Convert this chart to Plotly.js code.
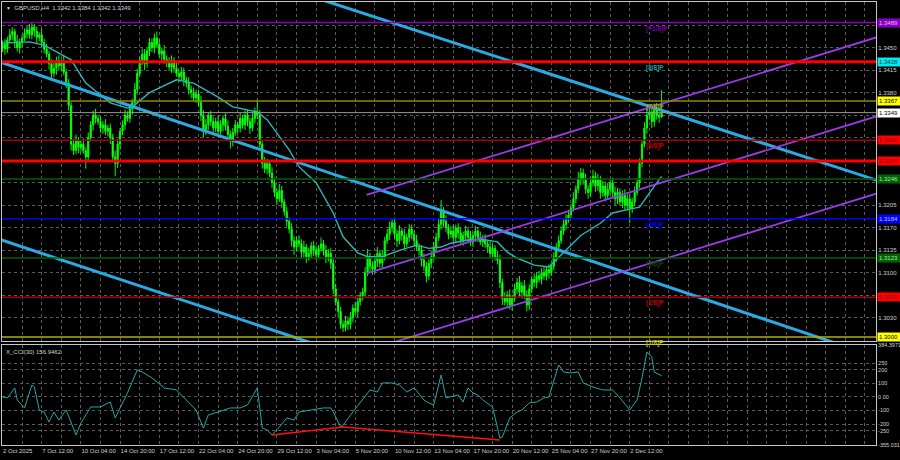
<!DOCTYPE html>
<html><head><meta charset="utf-8">
<script src="https://cdn.plot.ly/plotly-3.0.1.min.js"></script>
<style>html,body{margin:0;padding:0;background:#000;}#chart{width:900px;height:460px;}</style>
</head><body><div id="chart"></div>
<script>
// ---- DATA (prices in pips: 3455 = 1.3455) ----
const xLabels = ["2 Oct 2025","7 Oct 12:00","10 Oct 04:00","14 Oct 20:00","17 Oct 12:00","22 Oct 04:00","24 Oct 20:00","29 Oct 12:00","3 Nov 04:00","5 Nov 20:00","10 Nov 12:00","13 Nov 04:00","17 Nov 20:00","20 Nov 12:00","25 Nov 04:00","27 Nov 20:00","2 Dec 12:00"];
const firstOpen = 3450;
const closePips = [3455,3448,3462,3470,3475,3460,3450,3458,3465,3472,
3478,3470,3482,3476,3466,3470,3458,3448,3440,3425,
3410,3418,3430,3422,3428,3412,3395,3360,3300,3290,
3305,3295,3300,3290,3280,3310,3330,3345,3340,3335,
3325,3330,3320,3325,3310,3280,3270,3300,3320,3330,
3345,3340,3355,3365,3385,3410,3430,3440,3425,3445,
3458,3450,3465,3455,3440,3445,3432,3428,3420,3430,
3418,3410,3405,3412,3400,3395,3385,3380,3372,3378,
3365,3345,3320,3330,3345,3335,3325,3335,3320,3330,
3340,3328,3315,3305,3318,3330,3325,3340,3330,3345,
3335,3325,3340,3350,3345,3300,3270,3262,3270,3255,
3240,3225,3215,3228,3210,3195,3180,3168,3150,3140,
3150,3145,3132,3140,3125,3130,3142,3135,3128,3138,
3145,3135,3125,3130,3115,3075,3055,3040,3020,3015,
3025,3020,3030,3045,3040,3055,3065,3070,3100,3125,
3110,3105,3118,3130,3115,3125,3150,3160,3170,3178,
3160,3150,3165,3158,3145,3155,3168,3160,3150,3140,
3135,3120,3110,3095,3115,3125,3140,3155,3175,3195,
3180,3170,3160,3165,3155,3170,3162,3150,3158,3165,
3155,3148,3158,3165,3155,3148,3152,3145,3140,3130,
3138,3125,3120,3085,3060,3055,3065,3050,3060,3075,
3085,3070,3080,3065,3050,3075,3090,3085,3095,3090,
3100,3095,3105,3100,3110,3125,3140,3150,3165,3175,
3185,3190,3200,3215,3230,3245,3255,3245,3230,3225,
3240,3250,3235,3245,3225,3235,3220,3230,3240,3225,
3215,3225,3210,3220,3205,3215,3200,3210,3225,3240,
3270,3300,3325,3345,3350,3335,3355,3345,3342,3349];
const upperWick = [6,8,5,9,7,4,10,6,5,8,6,9,8,5,7,4,10,6,8,5,
7,10,6,8,4,9,5,6,5,8,10,6,7,9,5,8,6,7,10,5,
8,6,9,5,7,6,10,8,5,7,9,6,8,5,10,7,6,9,8,5,
7,6,7,10,8,5,9,6,7,8,5,10,6,8,7,5,9,6,8,7,
6,10,8,9,5,7,8,6,10,7,5,8,9,6,7,8,5,9,6,7,
8,6,9,7,19,8,6,10,7,5,9,8,6,10,7,5,8,6,9,7,
6,8,7,10,5,9,6,8,7,5,10,6,8,7,9,6,8,5,7,6,
8,7,9,6,10,8,5,7,9,12,6,8,7,10,5,9,6,8,10,6,
8,7,9,5,10,6,8,7,5,9,6,8,10,7,6,9,8,7,10,18,
7,9,6,8,10,5,7,9,6,8,7,10,5,8,6,9,7,8,6,10,
7,5,9,8,6,10,7,9,5,8,7,10,6,9,8,7,5,9,6,8,
7,9,6,8,5,7,6,8,7,9,6,8,7,10,6,12,8,7,9,6,
8,10,7,9,6,8,7,10,6,8,9,7,6,8,10,7,8,6,9,7,
8,6,9,10,7,12,8,9,6,35];
const lowerWick = [7,9,6,5,8,10,6,9,7,5,8,6,7,9,10,6,8,7,5,9,
8,6,10,7,9,5,8,8,10,7,6,9,8,5,18,7,6,9,8,5,
7,9,6,8,10,8,20,7,9,6,8,5,7,9,6,8,5,7,10,6,
8,7,9,6,5,10,7,8,6,9,7,5,8,6,10,7,8,9,6,8,
7,9,10,6,8,7,9,6,8,5,10,7,6,12,8,5,9,7,6,8,
7,9,5,8,6,10,8,7,9,6,8,7,10,5,9,6,8,7,9,12,
7,5,9,8,10,6,7,9,8,6,5,8,10,7,9,8,6,9,7,7,
6,9,8,7,5,9,6,8,7,5,10,8,6,9,7,8,6,5,9,7,
8,10,6,8,9,5,7,8,9,6,8,10,7,10,6,8,5,7,6,8,
9,7,8,6,10,7,9,5,8,7,9,6,8,10,7,5,8,6,9,7,
8,6,7,9,10,6,8,7,9,5,8,7,10,6,10,8,6,7,9,5,
8,6,7,9,5,6,8,7,5,6,8,7,6,5,7,6,9,8,7,10,
7,6,9,8,10,7,9,6,8,7,10,8,6,9,7,8,23,7,6,5,
8,6,5,9,7,10,8,7,9,0];

// moving average : bar index / value
const maIdx = [0,11,17,22,28,34,44,51,53,60,71,78,88,94,104,108,115,117,121,128,135,139,145,149,155,162,169,174,179,183,190,196,202,206,210,217,223,230,236,244,249,256,260,264,269];
const maPips = [3457,3459,3454,3443,3431,3395,3364,3356,3358,3380,3400,3395,3373,3358,3350,3338,3302,3291,3265,3240,3193,3156,3131,3125,3125,3135,3143,3138,3140,3146,3151,3152,3148,3132,3123,3112,3109,3135,3158,3177,3193,3199,3202,3224,3250];

// CCI(30)
const cciIdx = [0,2,5,6,9,12,13,15,17,19,21,23,26,28,30,32,36,40,44,46,51,55,57,61,66,71,75,79,82,84,88,93,97,100,104,106,108,110,113,116,119,121,126,131,134,135,138,139,143,147,150,153,155,159,162,165,168,172,174,176,179,181,183,186,188,190,192,194,196,199,200,203,204,207,210,212,215,218,221,223,227,229,232,235,237,241,245,249,252,256,259,261,263,265,266,269];
const cciVal = [0,-7,67,-22,-81,89,74,-96,-111,-185,-111,-170,-96,-193,-281,-193,-74,-74,-37,-156,30,200,185,141,67,52,-22,-96,-230,-133,-111,-81,-81,-59,67,-230,-244,-281,-222,-156,-170,-111,-96,-81,-81,-111,-222,-207,-111,-22,52,37,104,104,89,37,67,-22,-44,-59,163,-7,0,15,-37,67,30,15,-22,-59,-74,-304,-296,-156,-111,-96,-44,-37,-7,0,237,185,178,185,104,74,52,52,-7,-96,-22,141,333,296,185,157];
const cciDivIdx = [110,139,203];
const cciDivVal = [-281,-222,-318];

// trend lines (bar index, pips)
const cyanAIdx = [-2,360], cyanAPips = [3429,2965];
const cyanBIdx = [125,360], cyanBPips = [3531,3240];
const cyanCIdx = [-2,130], cyanCPips = [3153,2986];
const violet1Idx = [148.6,360], violet1Pips = [3221,3470];
const violet2Idx = [148.6,360], violet2Pips = [3099,3347];
const violet3Idx = [148.6,360], violet3Pips = [2979,3227];

// horizontal levels
const levelPips = [3489,3428,3367,3349,3306,3274,3246,3184,3123,3062,3000];
const levelText = ["1.3489","1.3428","1.3367","1.3349","1.3306","1.3274","1.3246","1.3184","1.3123","1.3062","1.3000"];
const mmLabel = ["[+1/8]P","[8/8]P","[7/8]P","[6/8]P","[4/8]P","[3/8]P","[2/8]P","[1/8]P"];
const mmLabelPips = [3489,3428,3367,3306,3184,3123,3062,3000];
const mmLabelBar = 262;

const priceTicks = [1.2995,1.3030,1.3065,1.3100,1.3135,1.3170,1.3205,1.3240,1.3275,1.3310,1.3345,1.3380,1.3415,1.3450,1.3485,1.3520];
const priceTickText = ["","1.3030","","1.3100","1.3135","1.3170","1.3205","","","","","1.3380","1.3415","1.3450","","1.3520"];
const cciTicks = [-355.031,-250,-200,-100,0,100,200,250,384.3971];
const cciTickText = ["-355.031","-250","-200","-100","0.00","100","200","250","384.3971"];
const headerText = "GBPUSD,H4  1.3342 1.3384 1.3342 1.3349";
const cciHeader = "X_CCI(30) 156.9462";

// ---- STYLES ----
const levelColors = ['#8a00b8','#ff0000','#8c8c00','#9a9a9a','#a80000','#ff0000','#006000','#0000ff','#006000','#a80000','#b0b000'];
const levelWidths = [1.5,3,1.5,1,1.5,3,1.5,1.5,1.5,1.5,1.5];
const boxBg = ['#8a00c0','#00e8f0','#ffff00','#ffffff','#ff0000','#ff0000','#006400','#0000ff','#006400','#ff0000','#ffff00'];
const boxFg = ['#e0b8ff','#003838','#000000','#000000','#7a0000','#7a0000','#b0e0b0','#c0c0ff','#b0e0b0','#7a0000','#000000'];
const mmColors = ['#7a00a8','#10a0a8','#a0a000','#c00000','#0000ff','#004a00','#c00000','#c0c000'];

const P = v => 1 + v/10000;
const FONT = '"Liberation Sans",Arial,sans-serif';
const TXT = '#d0d0d0';
const GRID = '#5a5a5a';

const bars = closePips.map((_, i) => i);
const openPips = closePips.map((c, i) => i === 0 ? firstOpen : closePips[i-1]);
const highPips = closePips.map((c, i) => Math.max(c, openPips[i]) + upperWick[i]);
const lowPips = closePips.map((c, i) => Math.min(c, openPips[i]) - lowerWick[i]);

const traces = [];
traces.push({
  type:'candlestick', x:bars, open:openPips.map(P), high:highPips.map(P), low:lowPips.map(P), close:closePips.map(P),
  xaxis:'x', yaxis:'y', whiskerwidth:0, hoverinfo:'skip',
  increasing:{line:{color:'#00ff00', width:1}, fillcolor:'#00ff00'},
  decreasing:{line:{color:'#00ff00', width:1}, fillcolor:'#7cf57c'}
});
traces.push({type:'scatter', mode:'lines', x:maIdx, y:maPips.map(P), xaxis:'x', yaxis:'y', line:{color:'#2cb8b8', width:1.4}, hoverinfo:'skip'});
[[cyanAIdx,cyanAPips],[cyanBIdx,cyanBPips],[cyanCIdx,cyanCPips]].forEach(([a,b]) => {
  traces.push({type:'scatter', mode:'lines', x:a, y:b.map(P), xaxis:'x', yaxis:'y', line:{color:'#2aaae2', width:3}, hoverinfo:'skip'});
});
[[violet1Idx,violet1Pips],[violet2Idx,violet2Pips],[violet3Idx,violet3Pips]].forEach(([a,b]) => {
  traces.push({type:'scatter', mode:'lines', x:a, y:b.map(P), xaxis:'x', yaxis:'y', line:{color:'#9a3ce8', width:1.8}, hoverinfo:'skip'});
});
traces.push({type:'scatter', mode:'lines', x:cciIdx, y:cciVal, xaxis:'x2', yaxis:'y2', line:{color:'#22a8a8', width:1}, hoverinfo:'skip'});
traces.push({type:'scatter', mode:'lines', x:cciDivIdx, y:cciDivVal, xaxis:'x2', yaxis:'y2', line:{color:'#ff1010', width:1.5}, hoverinfo:'skip'});

const gridIdx = [];
for (let k = 0; k <= 352; k += 8) gridIdx.push(k);
const gridText = gridIdx.map(k => (k % 16 === 0 && k/16 < xLabels.length) ? xLabels[k/16] : '');

const shapes = levelPips.map((v, i) => ({
  type:'line', xref:'paper', x0:0, x1:1, yref:'y', y0:P(v), y1:P(v),
  line:{color:levelColors[i], width:levelWidths[i]}
}));

const annotations = [];
levelPips.forEach((v, i) => annotations.push({
  xref:'paper', x:1, xanchor:'left', xshift:1, yref:'y', y:P(v), yanchor:'middle',
  text:levelText[i], showarrow:false, bgcolor:boxBg[i], borderpad:1, width:21, align:'left',
  font:{family:FONT, size:6, color:boxFg[i]}
}));
mmLabel.forEach((t, i) => annotations.push({
  xref:'x', x:mmLabelBar, xanchor:'left', yref:'y', y:P(mmLabelPips[i]), yanchor:'top',
  text:'<b>'+t+'</b>', showarrow:false, font:{family:FONT, size:6.5, color:mmColors[i]}
}));
annotations.push({xref:'paper', x:0, xanchor:'left', xshift:2, yref:'paper', y:1, yanchor:'top', yshift:-1,
  text:'<span style="font-size:5px">▼</span>  '+headerText, showarrow:false, font:{family:FONT, size:6, color:TXT}});
annotations.push({xref:'paper', x:0, xanchor:'left', xshift:2, yref:'paper', y:0.2257, yanchor:'top', yshift:-2,
  text:cciHeader, showarrow:false, font:{family:FONT, size:6, color:TXT}});

const axisCommon = {showline:true, mirror:true, linecolor:'#c8c8c8', linewidth:1, zeroline:false,
  gridcolor:GRID, griddash:'3px,3px', gridwidth:1, ticks:'', fixedrange:true,
  tickfont:{family:FONT, size:6, color:TXT}};

const layout = {
  width:900, height:460, paper_bgcolor:'#000', plot_bgcolor:'#000', showlegend:false,
  margin:{l:2, r:24, t:2, b:15},
  xaxis:Object.assign({}, axisCommon, {domain:[0,1], anchor:'y', range:[-0.2,356.5], tickmode:'array', tickvals:gridIdx, showticklabels:false, showgrid:true, rangeslider:{visible:false}}),
  xaxis2:Object.assign({}, axisCommon, {domain:[0,1], anchor:'y2', matches:'x', tickmode:'array', tickvals:gridIdx, ticktext:gridText, ticklabelposition:'outside right', tickangle:0, automargin:false, showgrid:true}),
  yaxis:Object.assign({}, axisCommon, {domain:[0.2348,1], anchor:'x', side:'right', range:[P(2994),P(3521)], tickmode:'array', tickvals:priceTicks, ticktext:priceTickText, showgrid:true, automargin:false}),
  yaxis2:Object.assign({}, axisCommon, {domain:[0,0.2257], anchor:'x2', side:'right', range:[-355.031,384.3971], tickmode:'array', tickvals:cciTicks, ticktext:cciTickText, showgrid:true, automargin:false, tickfont:{family:FONT, size:5.5, color:TXT}}),
  shapes:shapes, annotations:annotations
};

Plotly.newPlot('chart', traces, layout, {displayModeBar:false, staticPlot:true});
</script></body></html>
